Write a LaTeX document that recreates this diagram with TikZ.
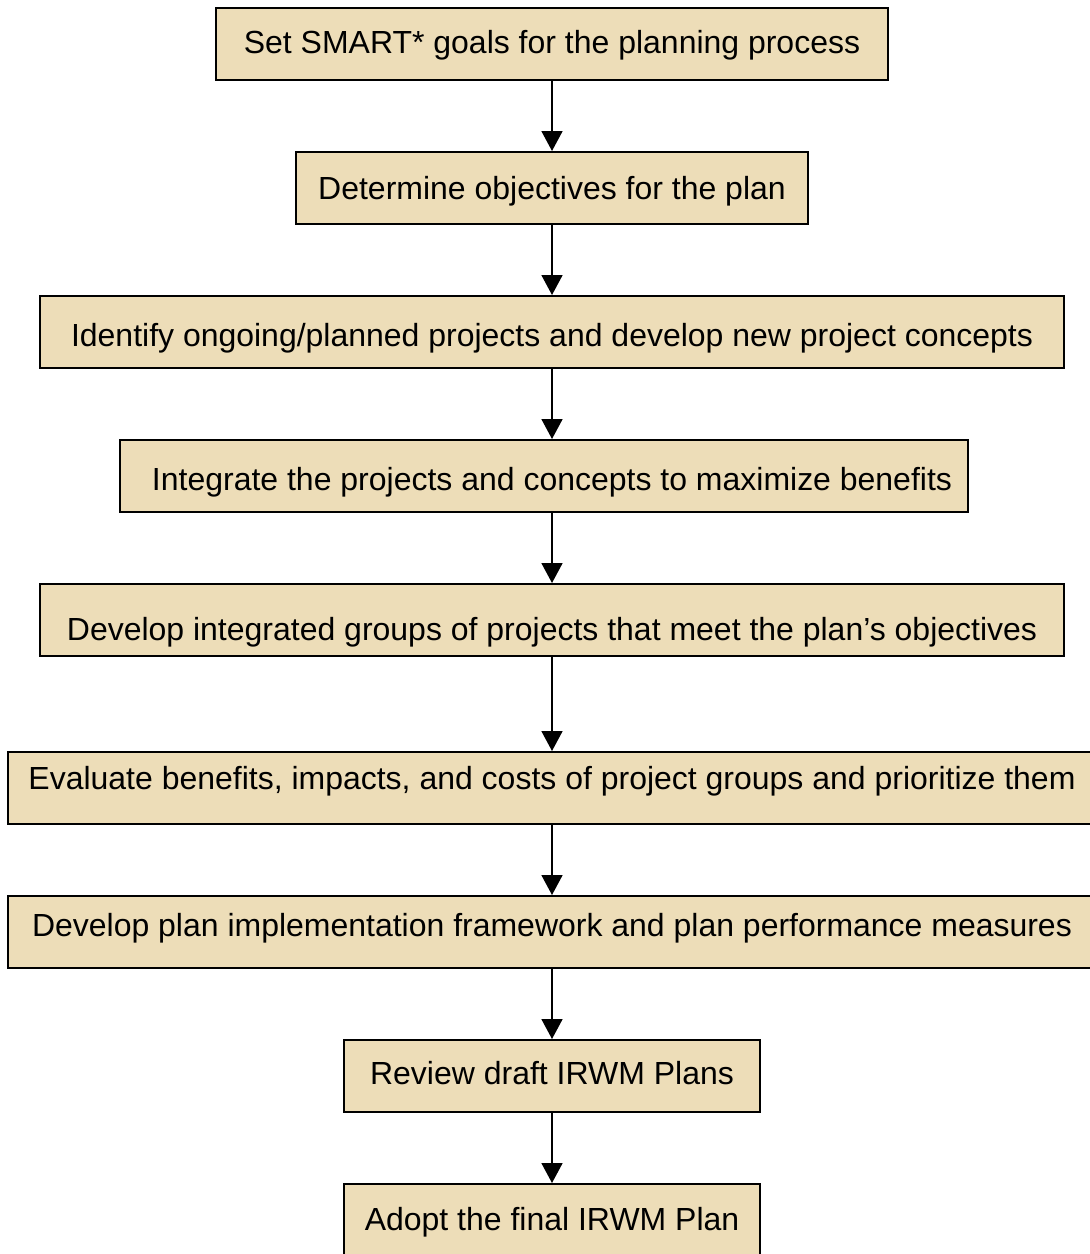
\documentclass[tikz,border=0pt]{standalone}
\usepackage{fontspec}
\setmainfont{Liberation Sans}
\usetikzlibrary{arrows.meta}
\definecolor{parchment}{RGB}{237,221,184}
\tikzset{
  stepbox/.style={draw=black, line width=0.04cm, fill=parchment, inner sep=0pt,
    minimum height=1.44cm, text depth=0pt, font=\fontsize{18.2}{21}\selectfont},
  % baseline drop below the box centre
  drop/.style={text height=2*#1},
  flowarrow/.style={line width=0.035cm, -{Triangle[length=0.4cm,width=0.42cm]}}
}
\begin{document}
\begin{tikzpicture}
            \useasboundingbox (0,0) rectangle (21.800000,-25.080000);
            
            % Step 1: goals
            \node [stepbox, drop=0.19cm, minimum width=13.44cm] (goals) at (11.040000,-0.880000) {Set SMART* goals for the planning process};%
            
            % Step 2: objectives
            \node [stepbox, drop=0.23cm, minimum width=10.24cm] (objectives) at (11.040000,-3.760000) {Determine objectives for the plan};%
            
            % Step 3: projects
            \node [stepbox, drop=0.29cm, minimum width=20.48cm] (projects) at (11.040000,-6.640000) {Identify ongoing/planned projects and develop new project concepts};%
            
            % Step 4: integrate (box sits a little left, text stays on the axis)
            \node [stepbox, drop=0.29cm, minimum width=16.96cm] (integrate) at (10.880000,-9.520000) {\hspace*{0.32cm}Integrate the projects and concepts to maximize benefits};%
            
            % Step 5: groups
            \node [stepbox, drop=0.40cm, minimum width=20.48cm] (groups) at (11.040000,-12.400000) {Develop integrated groups of projects that meet the plan’s objectives};%
            
            % Step 6: evaluate
            \node [stepbox, drop=0.03cm, minimum width=21.76cm] (evaluate) at (11.040000,-15.760000) {Evaluate benefits, impacts, and costs of project groups and prioritize them};%
            
            % Step 7: framework
            \node [stepbox, drop=0.09cm, minimum width=21.76cm] (framework) at (11.040000,-18.640000) {Develop plan implementation framework and plan performance measures};%
            
            % Step 8: review
            \node [stepbox, drop=0.16cm, minimum width=8.32cm] (review) at (11.040000,-21.520000) {Review draft IRWM Plans};%
            
            % Step 9: adopt
            \node [stepbox, drop=0.20cm, minimum width=8.32cm] (adopt) at (11.040000,-24.400000) {Adopt the final IRWM Plan};%
            
            % Drawing arrows between steps
            \draw [flowarrow] (goals) -- (objectives);%
            \draw [flowarrow] (objectives) -- (projects);%
            \draw [flowarrow] (projects) -- (integrate.north -| projects);%
            \draw [flowarrow] (integrate.south -| groups) -- (groups);%
            \draw [flowarrow] (groups) -- (evaluate);%
            \draw [flowarrow] (evaluate) -- (framework);%
            \draw [flowarrow] (framework) -- (review);%
            \draw [flowarrow] (review) -- (adopt);%
        \end{tikzpicture}
\end{document}
